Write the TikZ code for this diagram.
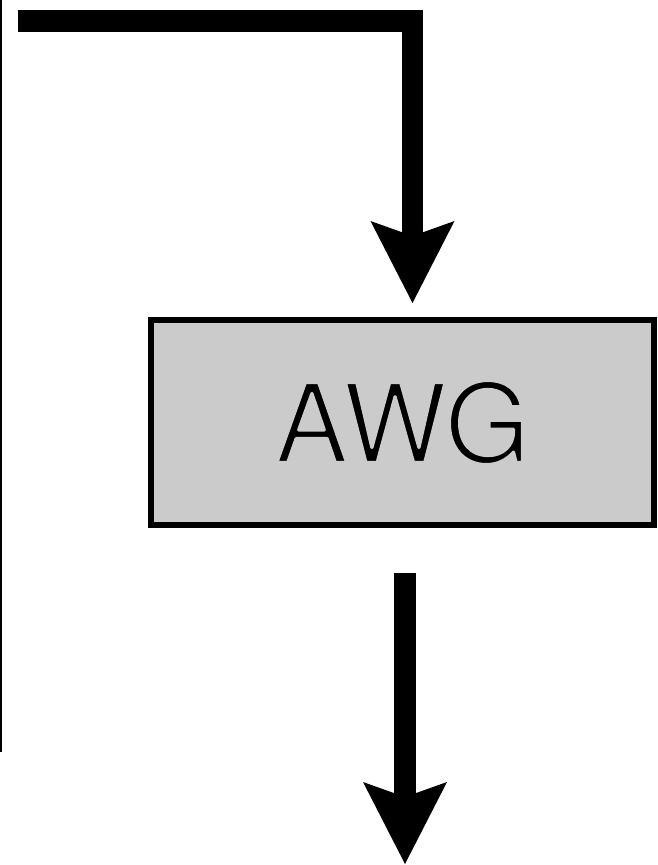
\documentclass[tikz,border=0pt]{standalone}
\usepackage{fontspec}
\setmainfont{TeX Gyre Heros}
\usetikzlibrary{arrows.meta}
\definecolor{boxgray}{RGB}{203,203,203}
% thin the glyphs: fill, then stroke the outline in the box colour
\newcommand{\thinglyphs}[1]{%
  \special{pdf:literal direct 2 Tr 3.2 w 1 j 0.796 0.796 0.796 RG}#1%
  \special{pdf:literal direct 0 Tr}}
\tikzset{
  bigarrow/.style={line width=21.5pt, line cap=butt, line join=miter,
    -{Stealth[length=82pt,width=84pt,inset=15pt,line width=0pt]}},
  block/.style={draw, line width=5.5pt, fill=boxgray, outer sep=0pt,
    minimum width=503pt, minimum height=205pt, inner sep=0pt,
    font=\fontsize{110}{110}\selectfont},
  rail/.style={line width=2.5pt, line cap=butt}
}
\begin{document}
\begin{tikzpicture}[x=1pt,y=-1pt]
  \useasboundingbox (0,0) rectangle (657,865);
  % side rail along the left edge
  \coordinate (railtop) at (1.2,0);
  \coordinate (railbot) at (1.2,752);
  \draw[rail] (railtop) -- (railbot);
  % the AWG block
  \node[block] (awg) at (402.5,422.5) {\thinglyphs{AWG}};
  % incoming signal from the top, turning down into the block
  \coordinate (in) at (18,21);
  \coordinate (intip) at ([xshift=10pt,yshift=17pt]awg.north);
  \draw[bigarrow] (in) -| (intip);
  % outgoing signal below the block
  \coordinate (outstart) at ([xshift=2.5pt,yshift=-48pt]awg.south);
  \coordinate (outtip) at (405,864);
  \draw[bigarrow] (outstart) -- (outtip);
\end{tikzpicture}
\end{document}
